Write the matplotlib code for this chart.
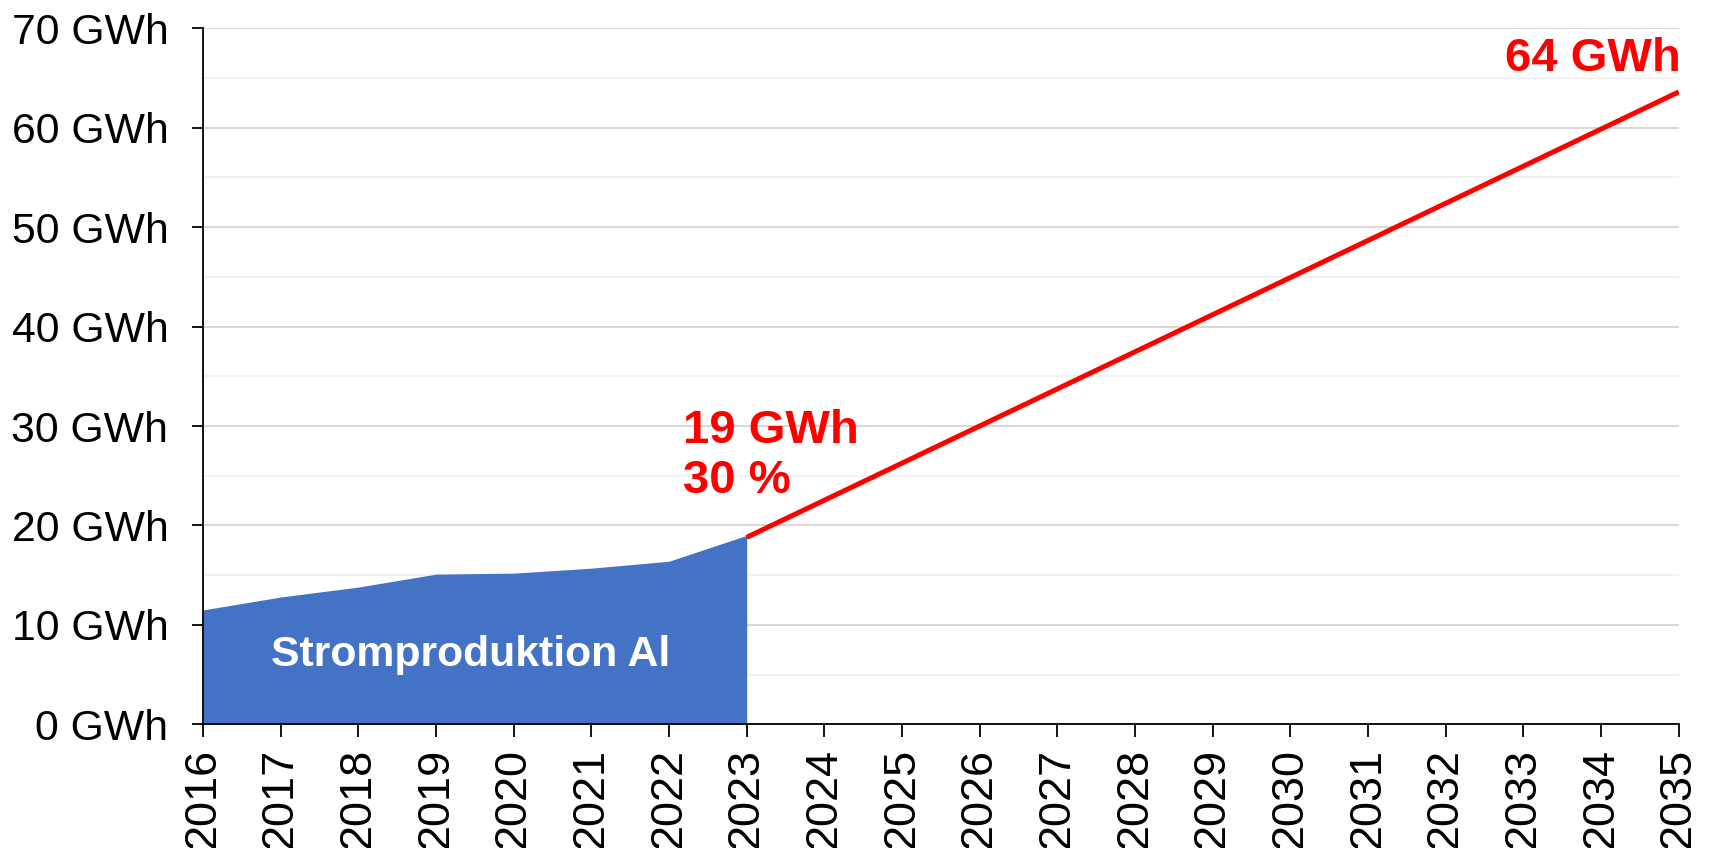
import matplotlib
matplotlib.use("Agg")
import matplotlib.pyplot as plt
from matplotlib.ticker import MultipleLocator, FuncFormatter

plt.rcParams['font.family'] = ['Liberation Sans', 'DejaVu Sans']

# Stromproduktion (history) and target path, in GWh
hist_years = [2016, 2017, 2018, 2019, 2020, 2021, 2022, 2023]
hist_gwh = [11.5, 12.8, 13.8, 15.1, 15.2, 15.7, 16.4, 19.0]
target_years = [2023, 2035]
target_gwh = [18.8, 63.6]
all_years = list(range(2016, 2036))

BLUE = '#4472C4'
RED = '#FF0000'

fig = plt.figure(figsize=(17.13, 8.48), dpi=100)
ax = fig.add_axes([0.1185, 0.1459, 0.8615, 0.8207])

ax.fill_between(hist_years, hist_gwh, 0, color=BLUE, lw=0, zorder=2)
ax.plot(target_years, target_gwh, color=RED, lw=3.6, solid_capstyle='butt', zorder=3)

ax.set_xlim(2016, 2035)
ax.set_ylim(0, 70)
ax.set_xticks(all_years)
ax.set_xticklabels([str(y) for y in all_years], rotation=90, fontsize=32.5)
ax.yaxis.set_major_locator(MultipleLocator(10))
ax.yaxis.set_minor_locator(MultipleLocator(5))
ax.yaxis.set_major_formatter(FuncFormatter(lambda v, p: f"{int(v)} GWh"))
ax.tick_params(axis='y', which='major', labelsize=30.8, length=8, width=1.3, pad=17)
ax.tick_params(axis='y', which='minor', length=0)
ax.tick_params(axis='x', length=9, width=1.3, pad=8)

ax.grid(axis='y', which='major', color='#d9d9d9', lw=1.5, zorder=0)
ax.grid(axis='y', which='minor', color='#f2f2f2', lw=1.5, zorder=0)
ax.set_axisbelow(True)

for s in ['top', 'right']:
    ax.spines[s].set_visible(False)
for s in ['left', 'bottom']:
    ax.spines[s].set_linewidth(1.3)
    ax.spines[s].set_zorder(4)

ax.text(2019.45, 7.0, 'Stromproduktion Al', color='white', fontsize=30.8,
        fontweight='bold', ha='center', va='center', zorder=5)
ax.text(2022.18, 28.3, '19 GWh', color=RED, fontsize=34, fontweight='bold',
        ha='left', va='baseline', zorder=5)
ax.text(2022.18, 23.3, '30 %', color=RED, fontsize=34, fontweight='bold',
        ha='left', va='baseline', zorder=5)
ax.text(2035.02, 65.7, '64 GWh', color=RED, fontsize=34, fontweight='bold',
        ha='right', va='baseline', zorder=5, clip_on=False)

fig.savefig('out.png', dpi=100)
